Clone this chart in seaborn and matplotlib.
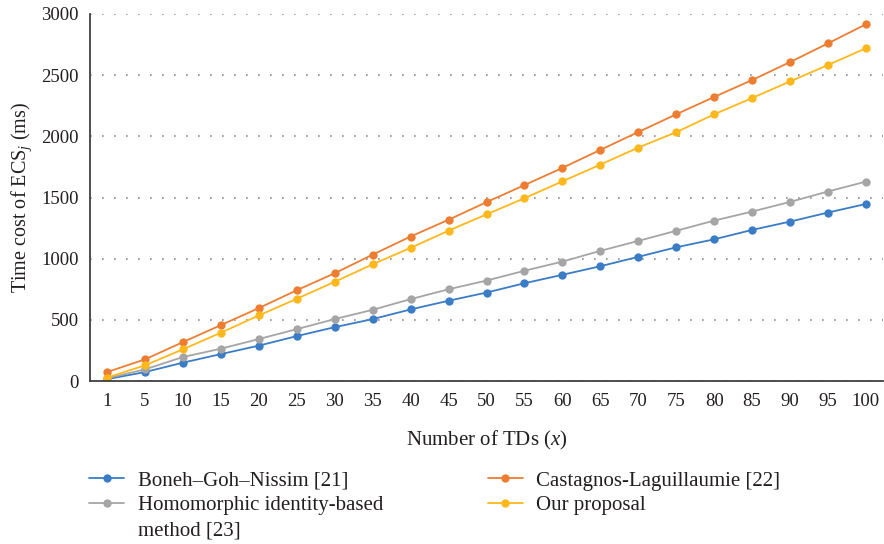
import matplotlib
matplotlib.use("Agg")
import matplotlib.pyplot as plt
import seaborn as sns
import pandas as pd

x_labels = ["1", "5", "10", "15", "20", "25", "30", "35", "40", "45", "50",
            "55", "60", "65", "70", "75", "80", "85", "90", "95", "100"]
boneh = [15, 73, 150, 220, 289, 367, 440, 506, 585, 656, 723, 799, 868, 938,
         1015, 1093, 1158, 1235, 1303, 1377, 1447]
homomorphic = [22, 95, 196, 264, 343, 424, 506, 582, 669, 750, 821, 901, 976,
               1064, 1145, 1228, 1311, 1385, 1464, 1549, 1630]
castagnos = [73, 177, 318, 457, 596, 742, 881, 1033, 1181, 1318, 1462, 1601,
             1742, 1889, 2035, 2180, 2322, 2460, 2607, 2760, 2916]
ours = [28, 128, 259, 395, 536, 672, 811, 954, 1088, 1229, 1362, 1494, 1632,
        1769, 1908, 2034, 2180, 2313, 2449, 2583, 2720]

names = ["Boneh\u2013Goh\u2013Nissim [21]",
         "Homomorphic identity-based",
         "Castagnos-Laguillaumie [22]",
         "Our proposal"]
name_continuation = "method [23]"
series = [boneh, homomorphic, castagnos, ours]
colors = ["#3A7CC6", "#A5A5A5", "#ED7D31", "#FFB81C"]

rows = []
for n, vals in zip(names, series):
    for xl, v in zip(x_labels, vals):
        rows.append({"x": xl, "y": v, "series": n})
df = pd.DataFrame(rows)

sns.set_style("white")
plt.rcParams["font.family"] = ["Liberation Serif", "DejaVu Serif"]
plt.rcParams["mathtext.fontset"] = "custom"
plt.rcParams["mathtext.rm"] = "Liberation Serif"
plt.rcParams["mathtext.it"] = "Liberation Serif:italic"

TXT = "#231F20"
fig = plt.figure(figsize=(8.84, 5.44), dpi=100)
ax = fig.add_axes([90 / 884, 1 - 381 / 544, (883 - 90) / 884, (381 - 14) / 544])

for n, c in zip(names, colors):
    sub = df[df["series"] == n]
    sns.lineplot(data=sub, x="x", y="y", ax=ax, color=c, marker="o",
                 markersize=6, markeredgewidth=0, linewidth=1.3,
                 label=n, sort=False)

ax.set_xlim(-0.45, 20.45)
ax.set_ylim(0, 3000)
ax.set_yticks([0, 500, 1000, 1500, 2000, 2500, 3000])
ax.yaxis.grid(True, color="#8C8C8C", linestyle=(0, (1, 6.2)), linewidth=1.2)
ax.xaxis.grid(False)
ax.set_axisbelow(True)
for s in ["top", "right"]:
    ax.spines[s].set_visible(False)
for s in ["left", "bottom"]:
    ax.spines[s].set_color("#404040")
    ax.spines[s].set_linewidth(1.3)
ax.tick_params(axis="both", length=0, colors=TXT)
ax.tick_params(axis="y", labelsize=13.5, pad=8)
ax.tick_params(axis="x", labelsize=13.5, pad=9)
ax.set_ylabel("Time cost of ECS$_j$ (ms)", fontsize=14.5, color=TXT, labelpad=5)
ax.set_xlabel("Number of TDs ($x$)", fontsize=15, color=TXT, labelpad=13)

handles, labels = ax.get_legend_handles_labels()
ax.get_legend().remove()
leg = fig.legend(handles, labels, loc="upper left",
                 bbox_to_anchor=(89 / 884, 1 - 471 / 544),
                 ncol=2, frameon=False, fontsize=15, handlelength=1.68,
                 handletextpad=0.67, columnspacing=5.0, labelspacing=0.25,
                 borderpad=0, borderaxespad=0, labelcolor=TXT)

fig.canvas.draw()
renderer = fig.canvas.get_renderer()
t_hom = leg.get_texts()[1]
t_bon = leg.get_texts()[0]
bb_h = t_hom.get_window_extent(renderer)
bb_b = t_bon.get_window_extent(renderer)
step = bb_b.y0 - bb_h.y0
fig.text(bb_h.x0 / fig.bbox.width, (bb_h.y0 - step) / fig.bbox.height,
         name_continuation, fontsize=15, color=TXT, ha="left", va="bottom")

fig.savefig("out.png", dpi=100)
